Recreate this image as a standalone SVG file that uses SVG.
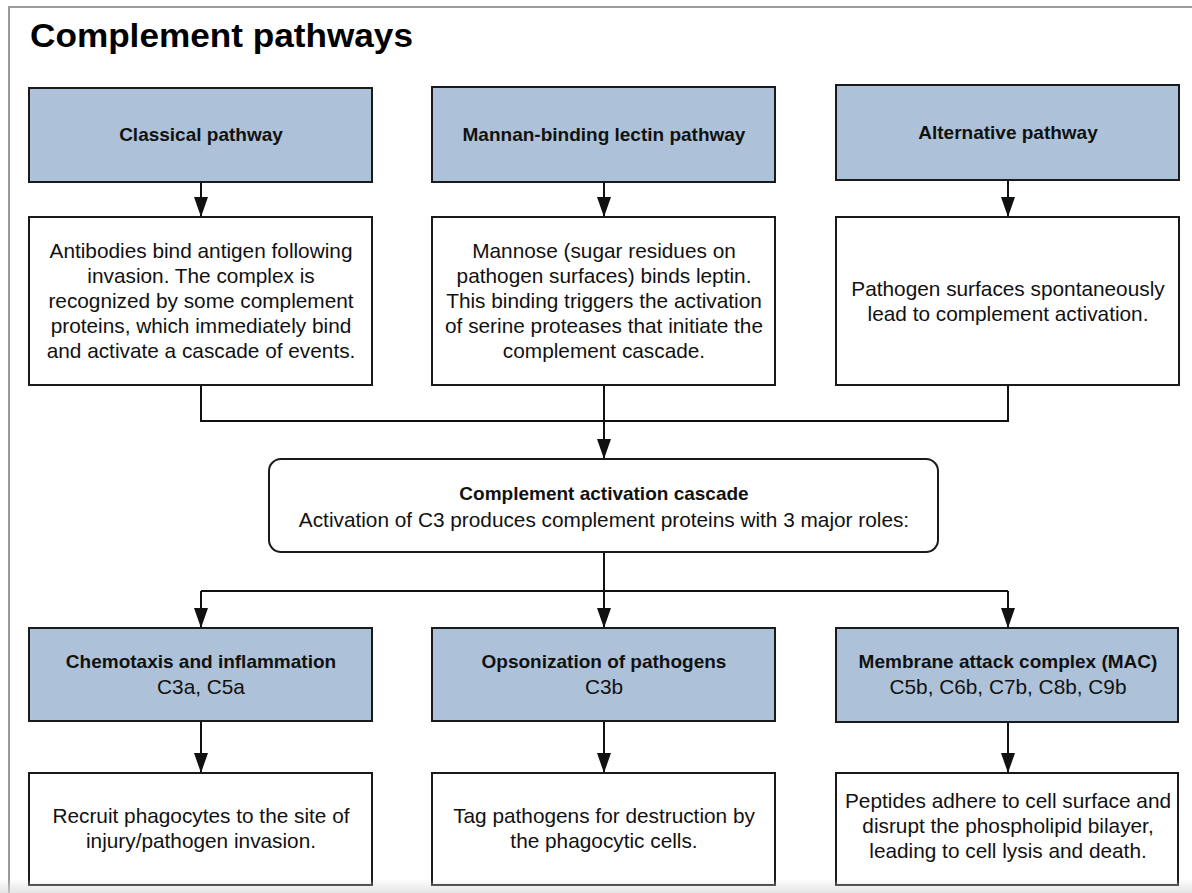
<svg xmlns="http://www.w3.org/2000/svg" width="1192" height="893" viewBox="0 0 1192 893">
  <defs>
    <marker id="arrow" viewBox="0 0 20 14" refX="20" refY="7" markerWidth="20" markerHeight="14" markerUnits="userSpaceOnUse" orient="auto">
      <path d="M0,0 L20,7 L0,14 Z" fill="#111"/>
    </marker>
    <linearGradient id="fade" x1="0" y1="0" x2="0" y2="1">
      <stop offset="0" stop-color="#d8d8d8" stop-opacity="0"/>
      <stop offset="1" stop-color="#d8d8d8" stop-opacity="0.7"/>
    </linearGradient>
  </defs>
  <style>
    .blue { fill: #adc2d8; stroke: #1a1a1a; stroke-width: 2; }
    .white { fill: #ffffff; stroke: #1a1a1a; stroke-width: 2; }
    .conn { fill: none; stroke: #111; stroke-width: 2; }
    .h { font-family: "Liberation Sans", Arial, sans-serif; font-weight: bold; font-size: 19px; fill: #111; text-anchor: middle; }
    .t { font-family: "Liberation Sans", Arial, sans-serif; font-size: 20.8px; fill: #111; text-anchor: middle; }
    .title { font-family: "Liberation Sans", Arial, sans-serif; font-weight: bold; font-size: 34px; fill: #000; }
  </style>
  <rect x="0" y="0" width="1192" height="893" fill="#ffffff"/>
  <path d="M9,893 L9,7 L1192,7" fill="none" stroke="#9a9a9a" stroke-width="2"/>
  <text class="title" x="30" y="47" textLength="383" lengthAdjust="spacingAndGlyphs">Complement pathways</text>

  <g id="connectors">
    <line class="conn" x1="201" y1="182" x2="201" y2="217" marker-end="url(#arrow)"/>
    <line class="conn" x1="604" y1="182" x2="604" y2="217" marker-end="url(#arrow)"/>
    <line class="conn" x1="1008" y1="180" x2="1008" y2="217" marker-end="url(#arrow)"/>
    <path class="conn" d="M201,385 L201,421 L1008,421 L1008,385"/>
    <line class="conn" x1="604" y1="385" x2="604" y2="459" marker-end="url(#arrow)"/>
    <line class="conn" x1="604" y1="552" x2="604" y2="628" marker-end="url(#arrow)"/>
    <path class="conn" d="M201,591 L1008,591"/>
    <line class="conn" x1="201" y1="591" x2="201" y2="628" marker-end="url(#arrow)"/>
    <line class="conn" x1="1008" y1="591" x2="1008" y2="628" marker-end="url(#arrow)"/>
    <line class="conn" x1="201" y1="721" x2="201" y2="773" marker-end="url(#arrow)"/>
    <line class="conn" x1="604" y1="721" x2="604" y2="773" marker-end="url(#arrow)"/>
    <line class="conn" x1="1008" y1="722" x2="1008" y2="773" marker-end="url(#arrow)"/>
  </g>

  <g id="classical">
    <rect class="blue" x="29" y="88" width="343" height="94"/>
    <text class="h" x="201" y="141">Classical pathway</text>
  </g>
  <g id="mannan">
    <rect class="blue" x="432" y="87" width="343" height="95"/>
    <text class="h" x="604" y="141">Mannan-binding lectin pathway</text>
  </g>
  <g id="alternative">
    <rect class="blue" x="836" y="85" width="343" height="95"/>
    <text class="h" x="1008" y="139">Alternative pathway</text>
  </g>

  <g id="classical-desc">
    <rect class="white" x="29" y="217" width="343" height="168"/>
    <text class="t" x="201" y="258">Antibodies bind antigen following</text>
    <text class="t" x="201" y="283">invasion. The complex is</text>
    <text class="t" x="201" y="308">recognized by some complement</text>
    <text class="t" x="201" y="333">proteins, which immediately bind</text>
    <text class="t" x="201" y="358">and activate a cascade of events.</text>
  </g>
  <g id="mannan-desc">
    <rect class="white" x="432" y="217" width="343" height="168"/>
    <text class="t" x="604" y="258">Mannose (sugar residues on</text>
    <text class="t" x="604" y="283">pathogen surfaces) binds leptin.</text>
    <text class="t" x="604" y="308">This binding triggers the activation</text>
    <text class="t" x="604" y="333">of serine proteases that initiate the</text>
    <text class="t" x="604" y="358">complement cascade.</text>
  </g>
  <g id="alternative-desc">
    <rect class="white" x="836" y="217" width="343" height="168"/>
    <text class="t" x="1008" y="296">Pathogen surfaces spontaneously</text>
    <text class="t" x="1008" y="321">lead to complement activation.</text>
  </g>

  <g id="cascade">
    <rect class="white" x="269" y="459" width="669" height="93" rx="12" ry="12"/>
    <text class="h" x="604" y="500">Complement activation cascade</text>
    <text class="t" x="604" y="527">Activation of C3 produces complement proteins with 3 major roles:</text>
  </g>

  <g id="chemotaxis">
    <rect class="blue" x="29" y="628" width="343" height="93"/>
    <text class="h" x="201" y="668">Chemotaxis and inflammation</text>
    <text class="t" x="201" y="694">C3a, C5a</text>
  </g>
  <g id="opsonization">
    <rect class="blue" x="432" y="628" width="343" height="93"/>
    <text class="h" x="604" y="668">Opsonization of pathogens</text>
    <text class="t" x="604" y="694">C3b</text>
  </g>
  <g id="mac">
    <rect class="blue" x="836" y="628" width="342" height="94"/>
    <text class="h" x="1008" y="668">Membrane attack complex (MAC)</text>
    <text class="t" x="1008" y="694">C5b, C6b, C7b, C8b, C9b</text>
  </g>

  <g id="chemotaxis-desc">
    <rect class="white" x="29" y="773" width="343" height="112"/>
    <text class="t" x="201" y="823">Recruit phagocytes to the site of</text>
    <text class="t" x="201" y="848">injury/pathogen invasion.</text>
  </g>
  <g id="opsonization-desc">
    <rect class="white" x="432" y="773" width="343" height="112"/>
    <text class="t" x="604" y="823">Tag pathogens for destruction by</text>
    <text class="t" x="604" y="848">the phagocytic cells.</text>
  </g>
  <g id="mac-desc">
    <rect class="white" x="836" y="773" width="342" height="112"/>
    <text class="t" x="1008" y="808">Peptides adhere to cell surface and</text>
    <text class="t" x="1008" y="833">disrupt the phospholipid bilayer,</text>
    <text class="t" x="1008" y="858">leading to cell lysis and death.</text>
  </g>

  <rect x="0" y="879" width="1192" height="14" fill="url(#fade)"/>
</svg>
